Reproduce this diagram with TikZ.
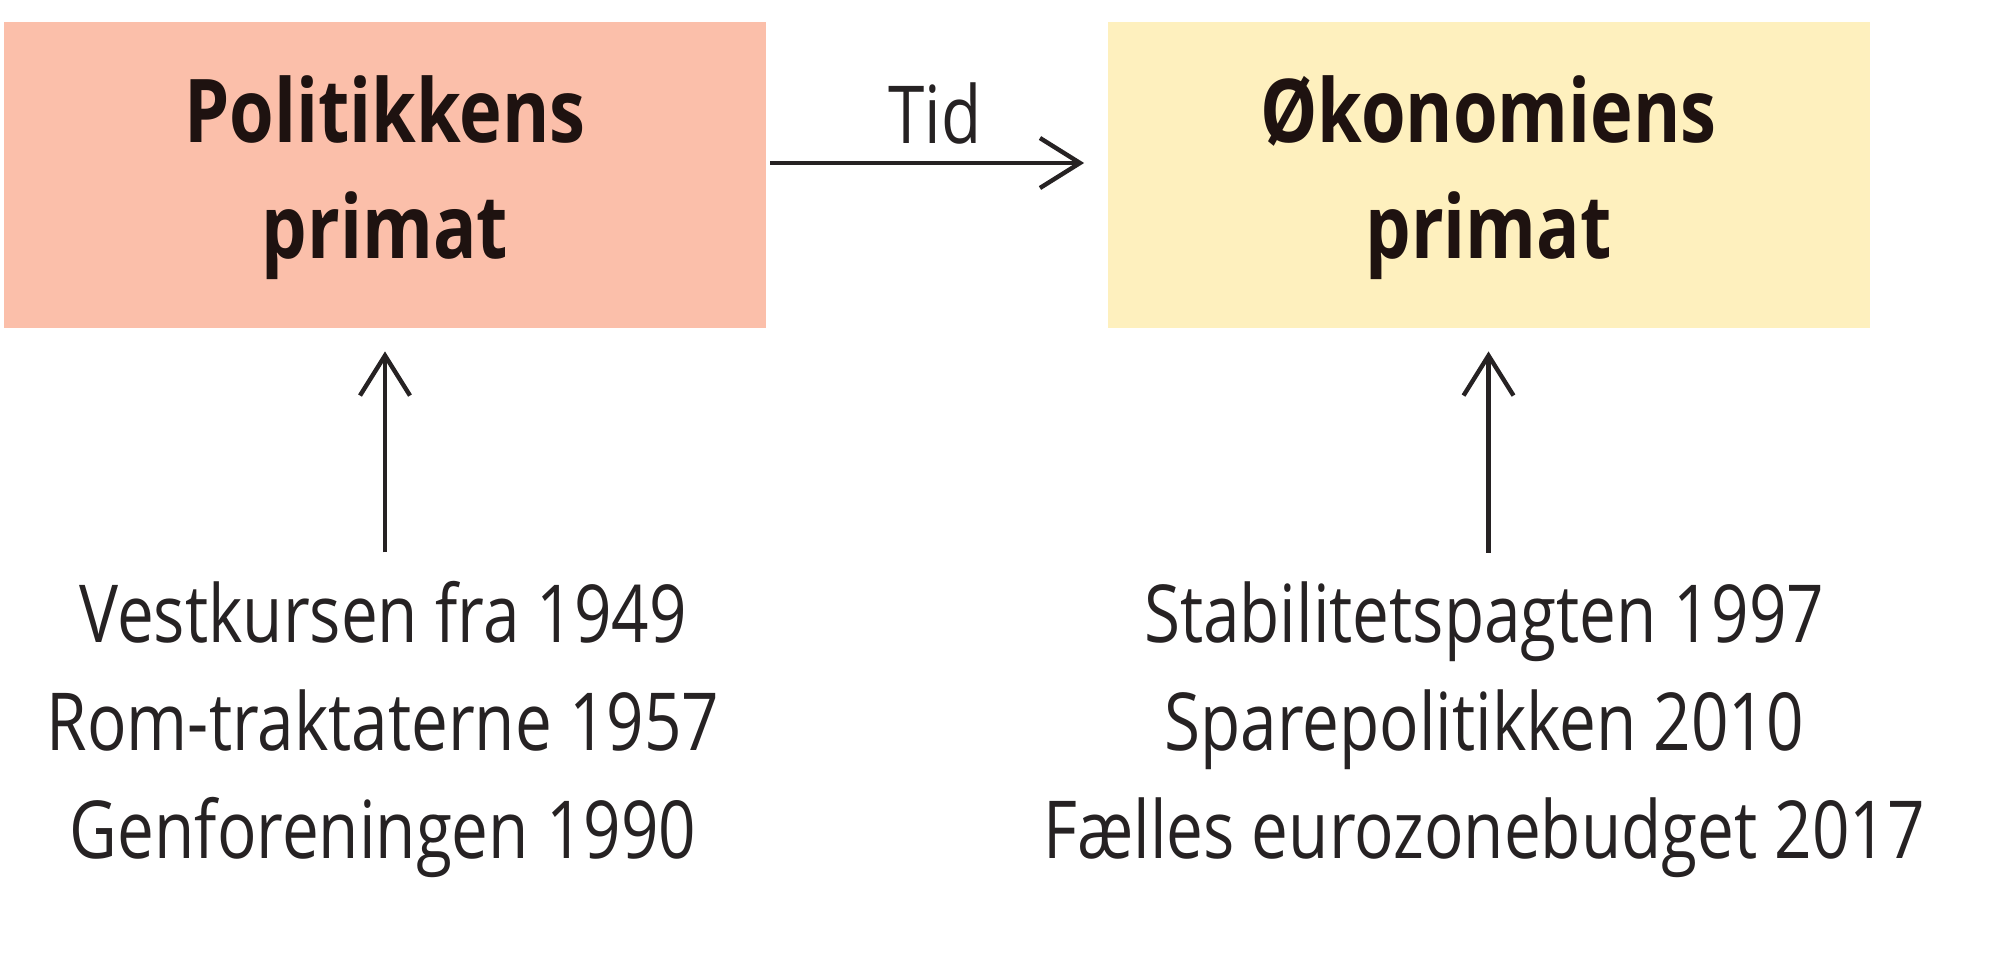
\documentclass[tikz,border=0pt]{standalone}
\usepackage{fontspec}
\setmainfont{Open Sans}[FakeStretch=0.82]
\usetikzlibrary{arrows.meta}
\definecolor{salmon}{RGB}{251,191,170}
\definecolor{cream}{RGB}{254,240,190}
\definecolor{ink}{RGB}{38,34,35}
\definecolor{titleink}{RGB}{30,18,16}
\begin{document}
\begin{tikzpicture}[x=0.5pt,y=-0.5pt,
  box/.style={minimum width=381pt,minimum height=153pt,inner sep=0pt,align=center,
    font=\bfseries\fontsize{44}{58}\selectfont,text=titleink},
  lst/.style={align=center,inner sep=0pt,font=\fontsize{40}{54}\selectfont,text=ink},
  lbl/.style={inner sep=0pt,font=\fontsize{40}{54}\selectfont,text=ink},
  conn/.style={draw=ink,line width=2.2pt,
    -{Straight Barb[length=20pt,width=25pt,line width=2.2pt]}}]
\useasboundingbox (0,0) rectangle (2000,955);
\node[box,fill=salmon] (pol) at (385,175) {};
\node[box,fill=cream] (oko) at (1488.5,175) {};
\node[box,fill=none] (poltxt) at (385,178) {Politikkens\\primat};
\node[box,fill=none] (okotxt) at (1488.5,178) {Økonomiens\\primat};
\node[lbl,anchor=base] (tid) at (935,143) {Tid};
\node[lst,anchor=base] (l1) at (383,858) {Vestkursen fra 1949\\Rom-traktaterne 1957\\Genforeningen 1990};
\node[lst,anchor=base] (l2) at (1484,858) {Stabilitetspagten 1997\\Sparepolitikken 2010\\Fælles eurozonebudget 2017};
\draw[conn,shorten <=2pt,shorten >=11.5pt] ([yshift=6pt]pol.east) -- ([yshift=6pt]oko.west);
\draw[conn,shorten <=14pt,shorten >=11.5pt] (l1.north -| pol.south) -- (pol.south);
\draw[conn,shorten <=14pt,shorten >=11.5pt] (l2.north -| oko.south) -- (oko.south);
\end{tikzpicture}
\end{document}
